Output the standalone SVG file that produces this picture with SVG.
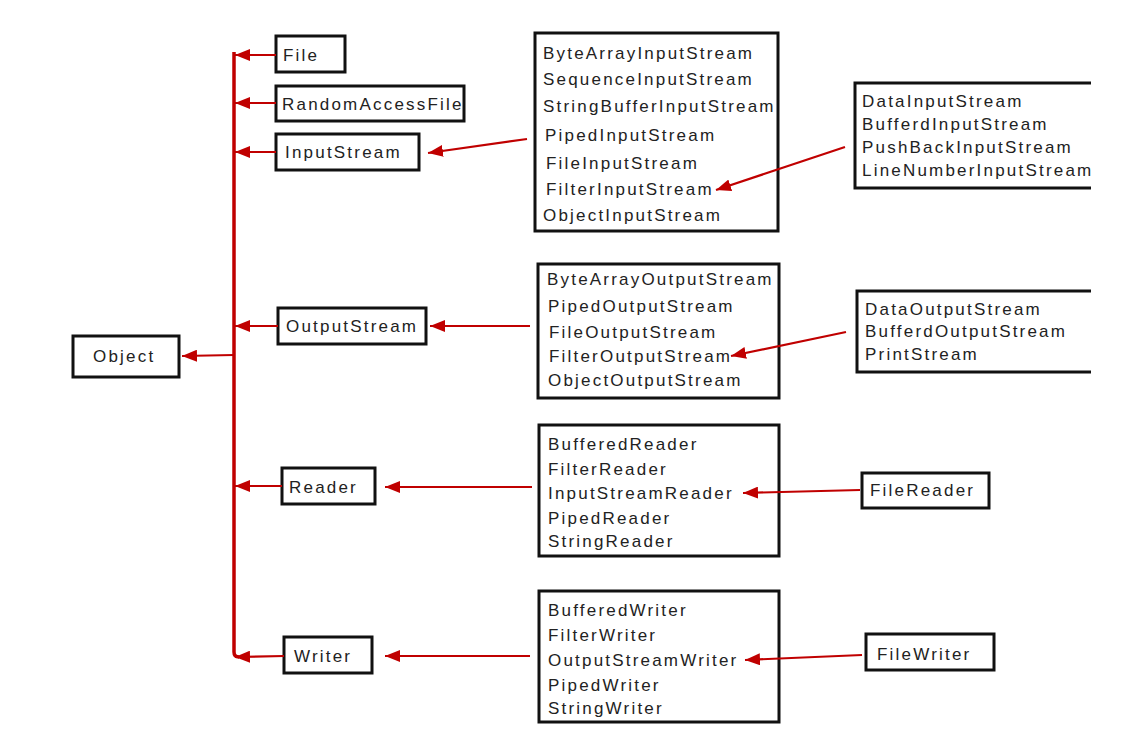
<svg xmlns="http://www.w3.org/2000/svg" width="1128" height="754" viewBox="0 0 1128 754">
<style>
.box{fill:#fff;stroke:#111;stroke-width:3}
.t{font-family:"Liberation Sans",Arial,sans-serif;font-size:17px;letter-spacing:2.2px;fill:#222}
.c{fill:none;stroke:#c00000;stroke-width:2.2}
.trunk{fill:none;stroke:#c00000;stroke-width:3.5}
</style>
<defs>
<marker id="ah" markerUnits="userSpaceOnUse" markerWidth="16" markerHeight="12" refX="15" refY="6" orient="auto">
<path d="M0,0 L15,6 L0,12 z" fill="#c00000"/>
</marker>
<clipPath id="cut"><rect x="0" y="0" width="1091" height="754"/></clipPath>
</defs>
<rect width="1128" height="754" fill="#fff"/>
<g id="object"><rect class="box" x="73" y="336" width="106" height="41"/><text class="t" x="93" y="362">Object</text></g>
<g id="file"><rect class="box" x="276" y="36" width="69" height="36"/><text class="t" x="283" y="61">File</text></g>
<g id="randomaccessfile"><rect class="box" x="276" y="86" width="188" height="35"/><text class="t" x="282" y="110">RandomAccessFile</text></g>
<g id="inputstream"><rect class="box" x="276" y="134" width="143" height="36"/><text class="t" x="285" y="158">InputStream</text></g>
<g id="outputstream"><rect class="box" x="278" y="308" width="148" height="36"/><text class="t" x="286" y="332">OutputStream</text></g>
<g id="reader"><rect class="box" x="282" y="468" width="93" height="36"/><text class="t" x="289" y="493">Reader</text></g>
<g id="writer"><rect class="box" x="284" y="637" width="88" height="36"/><text class="t" x="294" y="662">Writer</text></g>
<g id="inputstream-subclasses">
<rect class="box" x="535" y="33" width="243" height="198"/>
<text class="t" x="543" y="59">ByteArrayInputStream</text>
<text class="t" x="543" y="85">SequenceInputStream</text>
<text class="t" x="543" y="112">StringBufferInputStream</text>
<text class="t" x="545" y="141">PipedInputStream</text>
<text class="t" x="546" y="169">FileInputStream</text>
<text class="t" x="546" y="195">FilterInputStream</text>
<text class="t" x="543" y="221">ObjectInputStream</text>
</g>
<g id="filterinputstream-subclasses" clip-path="url(#cut)">
<rect class="box" x="855" y="83" width="280" height="105"/>
<text class="t" x="862" y="107">DataInputStream</text>
<text class="t" x="862" y="130">BufferdInputStream</text>
<text class="t" x="862" y="153">PushBackInputStream</text>
<text class="t" x="862" y="176">LineNumberInputStream</text>
</g>
<g id="outputstream-subclasses">
<rect class="box" x="538" y="264" width="241" height="134"/>
<text class="t" x="547" y="285">ByteArrayOutputStream</text>
<text class="t" x="548" y="312">PipedOutputStream</text>
<text class="t" x="549" y="338">FileOutputStream</text>
<text class="t" x="549" y="362">FilterOutputStream</text>
<text class="t" x="548" y="386">ObjectOutputStream</text>
</g>
<g id="filteroutputstream-subclasses" clip-path="url(#cut)">
<rect class="box" x="857" y="291" width="280" height="81"/>
<text class="t" x="865" y="315">DataOutputStream</text>
<text class="t" x="865" y="337">BufferdOutputStream</text>
<text class="t" x="865" y="360">PrintStream</text>
</g>
<g id="reader-subclasses">
<rect class="box" x="539" y="425" width="240" height="131"/>
<text class="t" x="548" y="450">BufferedReader</text>
<text class="t" x="548" y="475">FilterReader</text>
<text class="t" x="548" y="499">InputStreamReader</text>
<text class="t" x="548" y="524">PipedReader</text>
<text class="t" x="548" y="547">StringReader</text>
</g>
<g id="filereader"><rect class="box" x="862" y="473" width="127" height="35"/><text class="t" x="870" y="496">FileReader</text></g>
<g id="writer-subclasses">
<rect class="box" x="539" y="591" width="240" height="131"/>
<text class="t" x="548" y="616">BufferedWriter</text>
<text class="t" x="548" y="641">FilterWriter</text>
<text class="t" x="548" y="666">OutputStreamWriter</text>
<text class="t" x="548" y="691">PipedWriter</text>
<text class="t" x="548" y="714">StringWriter</text>
</g>
<g id="filewriter"><rect class="box" x="866" y="634" width="128" height="36"/><text class="t" x="877" y="660">FileWriter</text></g>
<g id="connectors">
<path class="trunk" d="M234,52 V652 Q234,657 239,657"/>
<line class="c" x1="276" y1="55" x2="235" y2="55" marker-end="url(#ah)"/>
<line class="c" x1="276" y1="103" x2="235" y2="103" marker-end="url(#ah)"/>
<line class="c" x1="276" y1="152" x2="235" y2="152" marker-end="url(#ah)"/>
<line class="c" x1="278" y1="326" x2="235" y2="326" marker-end="url(#ah)"/>
<line class="c" x1="234" y1="355" x2="182" y2="356" marker-end="url(#ah)"/>
<line class="c" x1="282" y1="486" x2="235" y2="486" marker-end="url(#ah)"/>
<line class="c" x1="284" y1="656" x2="235" y2="657" marker-end="url(#ah)"/>
<line class="c" x1="527" y1="139" x2="428" y2="153" marker-end="url(#ah)"/>
<line class="c" x1="845" y1="147" x2="716" y2="190" marker-end="url(#ah)"/>
<line class="c" x1="530" y1="326" x2="430" y2="326" marker-end="url(#ah)"/>
<line class="c" x1="846" y1="332" x2="731" y2="356" marker-end="url(#ah)"/>
<line class="c" x1="532" y1="487" x2="385" y2="487" marker-end="url(#ah)"/>
<line class="c" x1="860" y1="490" x2="743" y2="493" marker-end="url(#ah)"/>
<line class="c" x1="530" y1="656" x2="385" y2="656" marker-end="url(#ah)"/>
<line class="c" x1="862" y1="655" x2="745" y2="660" marker-end="url(#ah)"/>
</g>
</svg>
